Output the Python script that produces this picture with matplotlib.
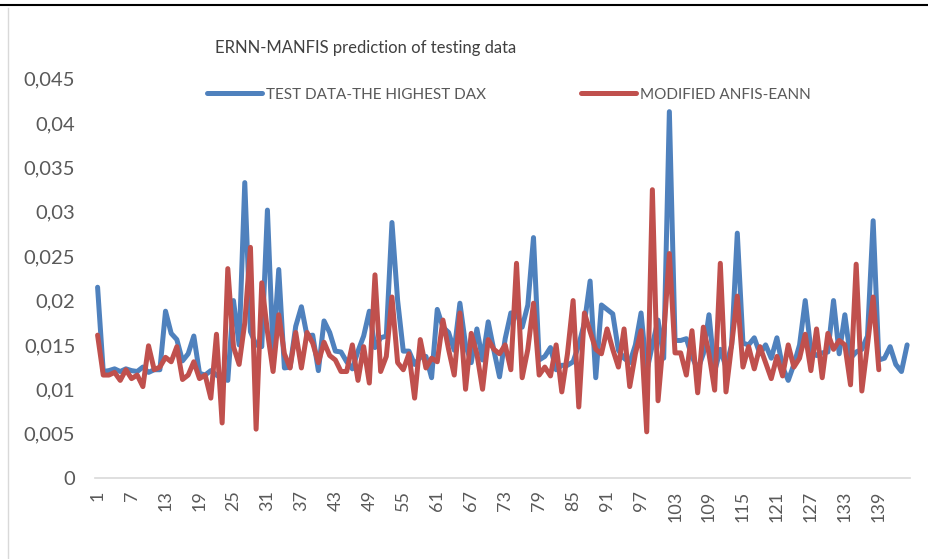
import matplotlib
matplotlib.use("Agg")
from matplotlib import pyplot as plt
from matplotlib.lines import Line2D
from matplotlib.ticker import FuncFormatter, FixedLocator

# test series (blue) and model output (red)
test_data = [
    0.0215, 0.0120, 0.0121, 0.0123, 0.0120, 0.0123, 0.0121, 0.0120, 0.0125, 0.0119,
    0.0122, 0.0122, 0.0188, 0.0163, 0.0156, 0.0132, 0.0140, 0.0160, 0.0118, 0.0116,
    0.0121, 0.0116, 0.0112, 0.0110, 0.0200, 0.0150, 0.0333, 0.0165, 0.0150, 0.0148,
    0.0302, 0.0142, 0.0235, 0.0124, 0.0125, 0.0171, 0.0193, 0.0160, 0.0161, 0.0121,
    0.0177, 0.0164, 0.0143, 0.0142, 0.0131, 0.0123, 0.0143, 0.0160, 0.0188, 0.0147,
    0.0158, 0.0160, 0.0288, 0.0200, 0.0143, 0.0143, 0.0128, 0.0136, 0.0137, 0.0113,
    0.0190, 0.0170, 0.0164, 0.0144, 0.0197, 0.0150, 0.0130, 0.0168, 0.0133, 0.0176,
    0.0144, 0.0114, 0.0157, 0.0186, 0.0186, 0.0170, 0.0195, 0.0271, 0.0133, 0.0137,
    0.0147, 0.0122, 0.0127, 0.0127, 0.0131, 0.0150, 0.0175, 0.0222, 0.0113, 0.0195,
    0.0190, 0.0185, 0.0144, 0.0135, 0.0130, 0.0150, 0.0186, 0.0120, 0.0150, 0.0178,
    0.0135, 0.0413, 0.0155, 0.0155, 0.0157, 0.0137, 0.0122, 0.0140, 0.0184, 0.0120,
    0.0145, 0.0125, 0.0150, 0.0276, 0.0152, 0.0150, 0.0158, 0.0140, 0.0150, 0.0135,
    0.0158, 0.0125, 0.0110, 0.0128, 0.0150, 0.0200, 0.0144, 0.0138, 0.0141, 0.0142,
    0.0200, 0.0140, 0.0184, 0.0135, 0.0142, 0.0145, 0.0160, 0.0290, 0.0133, 0.0135,
    0.0148, 0.0128, 0.0120, 0.0150,
]
modified_anfis = [
    0.0161, 0.0116, 0.0116, 0.0119, 0.0110, 0.0122, 0.0112, 0.0116, 0.0103, 0.0149,
    0.0122, 0.0125, 0.0136, 0.0131, 0.0148, 0.0111, 0.0116, 0.0131, 0.0112, 0.0116,
    0.0090, 0.0162, 0.0062, 0.0236, 0.0148, 0.0128, 0.0175, 0.0260, 0.0055, 0.0220,
    0.0165, 0.0120, 0.0184, 0.0140, 0.0124, 0.0164, 0.0124, 0.0164, 0.0152, 0.0130,
    0.0153, 0.0138, 0.0133, 0.0120, 0.0120, 0.0150, 0.0110, 0.0148, 0.0107, 0.0229,
    0.0120, 0.0137, 0.0204, 0.0130, 0.0122, 0.0140, 0.0090, 0.0156, 0.0124, 0.0135,
    0.0131, 0.0178, 0.0145, 0.0116, 0.0186, 0.0100, 0.0163, 0.0140, 0.0100, 0.0156,
    0.0145, 0.0140, 0.0150, 0.0122, 0.0242, 0.0113, 0.0145, 0.0197, 0.0116, 0.0125,
    0.0115, 0.0150, 0.0097, 0.0140, 0.0200, 0.0080, 0.0186, 0.0165, 0.0145, 0.0140,
    0.0168, 0.0145, 0.0125, 0.0168, 0.0103, 0.0140, 0.0166, 0.0052, 0.0325, 0.0087,
    0.0160, 0.0253, 0.0141, 0.0141, 0.0116, 0.0166, 0.0096, 0.0170, 0.0140, 0.0099,
    0.0242, 0.0097, 0.0150, 0.0205, 0.0125, 0.0148, 0.0123, 0.0148, 0.0130, 0.0112,
    0.0137, 0.0115, 0.0150, 0.0125, 0.0135, 0.0162, 0.0121, 0.0168, 0.0113, 0.0163,
    0.0145, 0.0155, 0.0150, 0.0105, 0.0241, 0.0098, 0.0150, 0.0204, 0.0122,
]
y_ticks = [0, 0.005, 0.01, 0.015, 0.02, 0.025, 0.03, 0.035, 0.04, 0.045]

title = "ERNN-MANFIS prediction of testing data"
label_test = "TEST DATA-THE HIGHEST DAX"
label_model = "MODIFIED ANFIS-EANN"

BLUE = "#4F81BD"
RED = "#C0504D"
GREY = "#595959"
FONT = ["Lato", "DejaVu Sans"]

plt.rcParams["font.family"] = FONT

x_test = list(range(1, len(test_data) + 1))
x_model = list(range(1, len(modified_anfis) + 1))

fig = plt.figure(figsize=(9.29, 5.59), dpi=100)
ax = fig.add_axes([0.102, 0.145, 0.8775, 0.714])

ax.plot(x_test, test_data, color=BLUE, lw=3.6, solid_joinstyle="round",
        solid_capstyle="round", label=label_test)
ax.plot(x_model, modified_anfis, color=RED, lw=3.6, solid_joinstyle="round",
        solid_capstyle="round", label=label_model)

ax.set_xlim(0.5, len(test_data) + 0.5)
ax.set_ylim(0, 0.045)

# Excel style: labels every 6th category, comma decimals
ax.xaxis.set_major_locator(FixedLocator(list(range(1, len(test_data) + 1, 6))))
ax.set_yticks(y_ticks)
ax.yaxis.set_major_formatter(FuncFormatter(
    lambda v, p: "0" if v == 0 else ("%g" % round(v, 4)).replace(".", ",")))

ax.tick_params(axis="x", length=0, pad=9, labelsize=13, labelcolor=GREY,
               labelrotation=90)
ax.tick_params(axis="y", length=0, pad=14, labelsize=14.5, labelcolor=GREY)

for s in ["top", "right", "left"]:
    ax.spines[s].set_visible(False)
ax.spines["bottom"].set_color("#D9D9D9")
ax.spines["bottom"].set_linewidth(1.2)

ax.legend(loc="center", bbox_to_anchor=(0.508, 0.96), ncol=2, frameon=False,
          fontsize=11, labelcolor=GREY, handlelength=3.6, handletextpad=0.3,
          columnspacing=6.2, borderaxespad=0)

fig.text(366 / 929, 1 - 48 / 559, title, fontsize=12, color="#404040",
         ha="center", va="center")

# frame remnants of the cropped figure
fig.add_artist(Line2D([0, 1], [1 - 5 / 559, 1 - 5 / 559], color="black", lw=1.5))
fig.add_artist(Line2D([8 / 929, 8 / 929], [0, 1 - 8 / 559], color="#D9D9D9", lw=1.0))

fig.savefig("out.png", dpi=100)
